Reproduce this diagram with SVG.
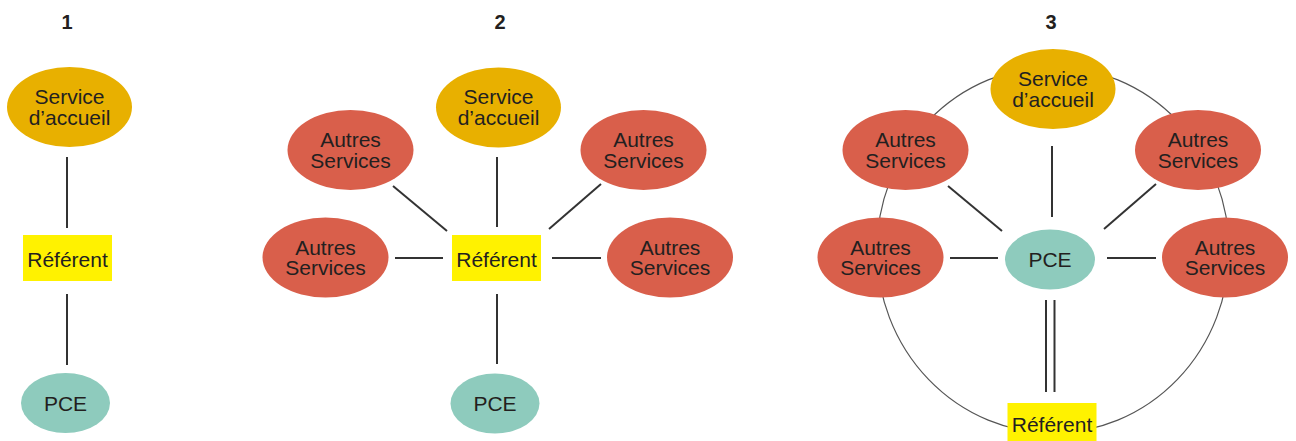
<svg xmlns="http://www.w3.org/2000/svg" width="1296" height="441" viewBox="0 0 1296 441">
<style>
text{font-family:"Liberation Sans",Arial,sans-serif;font-size:21px;fill:#231f20;text-anchor:middle}
.num{font-weight:bold;font-size:20px}
.acc{fill:#e8b000}
.aut{fill:#d95f4b}
.pce{fill:#8ecbbd}
.ref{fill:#fff200}
.c{stroke:#333;stroke-width:2;fill:none}
.ring{stroke:#555;stroke-width:1.2;fill:none}
</style>
<rect width="1296" height="441" fill="#fff"/>
<text class="num" x="67" y="29">1</text>
<text class="num" x="500" y="29">2</text>
<text class="num" x="1051" y="29">3</text>
<g id="connectors">
<line class="c" x1="67" y1="157" x2="67" y2="228"/>
<line class="c" x1="67" y1="294" x2="67" y2="365"/>
<line class="c" x1="497" y1="157" x2="497" y2="227"/>
<line class="c" x1="497" y1="294" x2="497" y2="364"/>
<line class="c" x1="393" y1="186" x2="447" y2="231"/>
<line class="c" x1="601" y1="184" x2="549" y2="229"/>
<line class="c" x1="395" y1="258" x2="443" y2="258"/>
<line class="c" x1="552" y1="258" x2="601" y2="258"/>
<ellipse class="ring" cx="1053" cy="250" rx="176" ry="183"/>
<line class="c" x1="1052" y1="146" x2="1052" y2="217"/>
<line class="c" x1="948" y1="186" x2="1002" y2="231"/>
<line class="c" x1="1156" y1="184" x2="1104" y2="229"/>
<line class="c" x1="950" y1="258" x2="998" y2="258"/>
<line class="c" x1="1107" y1="258" x2="1156" y2="258"/>
<line class="c" x1="1046" y1="300" x2="1046" y2="392"/>
<line class="c" x1="1054.5" y1="300" x2="1054.5" y2="392"/>
</g>
<g id="p1-accueil"><ellipse class="acc" cx="69.5" cy="107" rx="62.5" ry="40"/><text x="69.5" y="104">Service</text><text x="69.5" y="125">d’accueil</text></g>
<g id="p1-referent"><rect class="ref" x="23" y="235" width="89" height="46"/><text x="67.5" y="266.5">Référent</text></g>
<g id="p1-pce"><ellipse class="pce" cx="65.5" cy="403" rx="44.5" ry="30"/><text x="65.5" y="410.5">PCE</text></g>

<g id="p2-accueil"><ellipse class="acc" cx="498.5" cy="107.5" rx="62.5" ry="40"/><text x="498.5" y="104">Service</text><text x="498.5" y="125">d’accueil</text></g>
<g id="p2-autres-tl"><ellipse class="aut" cx="350.5" cy="150" rx="63" ry="40"/><text x="350.5" y="147">Autres</text><text x="350.5" y="167.5">Services</text></g>
<g id="p2-autres-tr"><ellipse class="aut" cx="643.5" cy="150" rx="63" ry="40"/><text x="643.5" y="147">Autres</text><text x="643.5" y="167.5">Services</text></g>
<g id="p2-autres-ml"><ellipse class="aut" cx="325.5" cy="257.5" rx="63" ry="40"/><text x="325.5" y="254.5">Autres</text><text x="325.5" y="275">Services</text></g>
<g id="p2-autres-mr"><ellipse class="aut" cx="670" cy="257.5" rx="63" ry="40"/><text x="670" y="254.5">Autres</text><text x="670" y="275">Services</text></g>
<g id="p2-referent"><rect class="ref" x="452" y="235" width="89" height="46"/><text x="496.5" y="266.5">Référent</text></g>
<g id="p2-pce"><ellipse class="pce" cx="495" cy="403.5" rx="44.5" ry="30"/><text x="495" y="411">PCE</text></g>

<g id="p3-accueil"><ellipse class="acc" cx="1053" cy="89" rx="62.5" ry="40"/><text x="1053" y="86">Service</text><text x="1053" y="106.5">d’accueil</text></g>
<g id="p3-autres-tl"><ellipse class="aut" cx="905.5" cy="150" rx="63" ry="40"/><text x="905.5" y="147">Autres</text><text x="905.5" y="167.5">Services</text></g>
<g id="p3-autres-tr"><ellipse class="aut" cx="1198" cy="150" rx="63" ry="40"/><text x="1198" y="147">Autres</text><text x="1198" y="167.5">Services</text></g>
<g id="p3-autres-ml"><ellipse class="aut" cx="880.5" cy="257.5" rx="63" ry="40"/><text x="880.5" y="254.5">Autres</text><text x="880.5" y="275">Services</text></g>
<g id="p3-autres-mr"><ellipse class="aut" cx="1225" cy="257.5" rx="63" ry="40"/><text x="1225" y="254.5">Autres</text><text x="1225" y="275">Services</text></g>
<g id="p3-pce"><ellipse class="pce" cx="1050" cy="259.5" rx="45" ry="30"/><text x="1050" y="267">PCE</text></g>
<g id="p3-referent"><rect class="ref" x="1007.5" y="403" width="89" height="38"/><text x="1052" y="432">Référent</text></g>
</svg>
